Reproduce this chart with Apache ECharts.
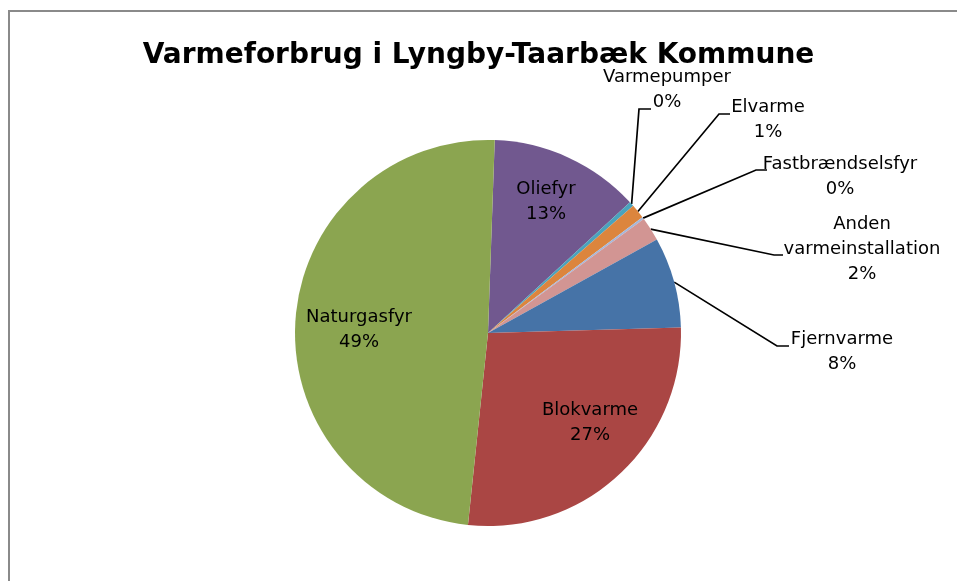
<!DOCTYPE html>
<html>
<head>
<meta charset="utf-8">
<script src="https://cdn.jsdelivr.net/npm/echarts@6/dist/echarts.min.js"></script>
<style>
html,body{margin:0;padding:0;background:#fff;}
#c{width:957px;height:581px;}
</style>
</head>
<body>
<div id="c"></div>
<script>
// ---- data ----
const categories = ['Oliefyr','Varmepumper','Elvarme','Fastbrændselsfyr','Anden varmeinstallation','Fjernvarme','Blokvarme','Naturgasfyr'];
const labelNames = ['Oliefyr','Varmepumper','Elvarme','Fastbrændselsfyr','Anden\nvarmeinstallation','Fjernvarme','Blokvarme','Naturgasfyr'];
const values = [12.6, 0.4, 1.2, 0.2, 2.0, 7.6, 27.1, 48.9];
const titleText = 'Varmeforbrug i Lyngby-Taarbæk Kommune';

// ---- styling / layout ----
const colors = ['#71588F','#4AA3BD','#DC853D','#A5B7DA','#D29593','#4673A7','#AA4644','#8BA550'];
const insideIdx = [0, 6, 7];
const labelCenters = {
  0: [546, 202], 1: [667, 90], 2: [768, 120], 3: [840, 177],
  4: [862, 249], 5: [842, 352], 6: [590, 423], 7: [359, 330]
};
const leaderElbows = { 1: [639, 109], 2: [719, 114], 3: [756, 170], 4: [774, 255], 5: [777, 346] };
const leaderEndX = { 1: 651, 2: 730, 3: 767, 4: 783, 5: 789 };
const FONT = 'DejaVu Sans';

const chart = echarts.init(document.getElementById('c'), null, {renderer: 'canvas'});

const data = categories.map((c, i) => {
  const inside = insideIdx.indexOf(i) >= 0;
  return {
    name: c,
    value: values[i],
    itemStyle: { color: colors[i] },
    label: { position: inside ? 'inside' : 'outside' },
    labelLine: { show: !inside }
  };
});

chart.setOption({
  backgroundColor: '#fff',
  animation: false,
  title: {
    text: titleText,
    left: 'center',
    top: 37,
    textStyle: { fontFamily: FONT, fontWeight: 'bold', fontSize: 28, color: '#000' }
  },
  graphic: [{
    type: 'rect',
    shape: { x: 9, y: 11, width: 1000, height: 700 },
    style: { fill: 'none', stroke: '#8a8a8a', lineWidth: 2 },
    silent: true, z: -1
  }],
  series: [{
    type: 'pie',
    center: [488, 333],
    radius: 193,
    startAngle: 88,
    clockwise: true,
    avoidLabelOverlap: false,
    data: data,
    itemStyle: { borderWidth: 0 },
    label: {
      show: true,
      color: '#000',
      fontFamily: FONT,
      fontSize: 18,
      lineHeight: 25,
      align: 'center',
      formatter: p => labelNames[p.dataIndex] + '\n' + Math.round(p.percent) + '%'
    },
    labelLine: {
      lineStyle: { color: '#000', width: 1.7 },
      length: 10, length2: 10
    },
    labelLayout: function (p) {
      const i = p.dataIndex;
      const c = labelCenters[i];
      const out = { x: c[0], y: c[1], align: 'center', verticalAlign: 'middle' };
      if (leaderElbows[i] && p.labelLinePoints && p.labelLinePoints[0]) {
        const e = leaderElbows[i];
        out.labelLinePoints = [p.labelLinePoints[0], e, [leaderEndX[i], e[1]]];
      }
      return out;
    }
  }]
});
</script>
</body>
</html>
